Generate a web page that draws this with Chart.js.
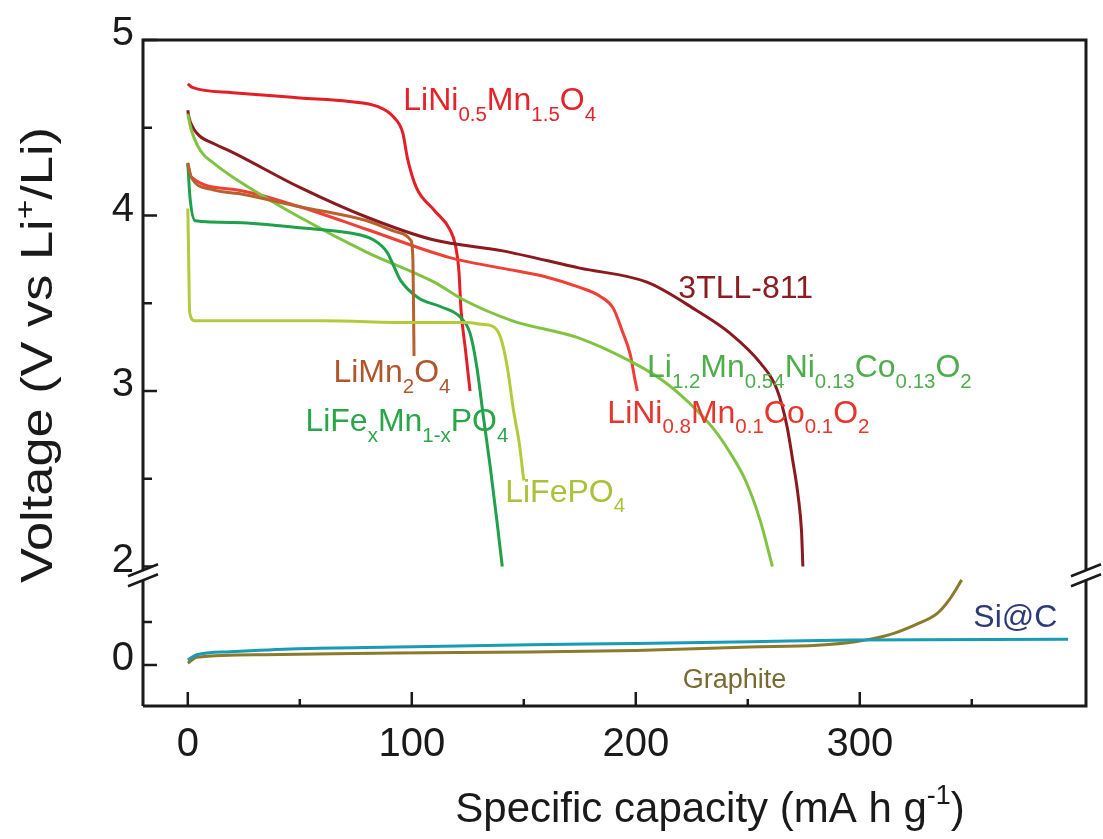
<!DOCTYPE html>
<html>
<head>
<meta charset="utf-8">
<script src="https://cdn.jsdelivr.net/npm/chart.js@4.4.0/dist/chart.umd.min.js"></script>
<style>
  html, body { margin: 0; background: #fff; }
</style>
</head>
<body>
<canvas id="chart" width="1103" height="839"></canvas>
<script>
/* Discharge curves of cathode / anode materials — broken voltage axis */

// ---- data (capacity in mA h g-1, voltage in V) ----
const lnmoCap = [0, 2, 20, 50, 72, 85, 92, 96, 98, 102, 110, 117, 119.5, 121, 122, 124, 126];
const lnmoV   = [4.75, 4.73, 4.70, 4.67, 4.65, 4.62, 4.56, 4.47, 4.33, 4.16, 4.03, 3.92, 3.83, 3.69, 3.46, 3.23, 3.0];

const tllCap = [0, 0.5, 4, 11.5, 20, 50, 80, 110, 140, 175, 205, 227, 242, 255.6, 263, 267.5, 270, 272.5, 274, 274.6];
const tllV   = [4.60, 4.56, 4.47, 4.41, 4.36, 4.16, 3.99, 3.86, 3.80, 3.70, 3.62, 3.46, 3.33, 3.16, 3.01, 2.80, 2.61, 2.40, 2.20, 2.0];

const nmcCap = [0, 1.5, 20, 50, 80, 117, 140, 160, 175, 184, 190, 194, 197.5, 199.7, 200.7];
const nmcV   = [4.29, 4.22, 4.15, 4.05, 3.92, 3.76, 3.70, 3.65, 3.59, 3.54, 3.47, 3.34, 3.21, 3.06, 3.0];

const lmoCap = [0, 1.5, 10, 25, 50, 80, 95, 99.5, 100.5, 100.8, 101];
const lmoV   = [4.30, 4.22, 4.15, 4.12, 4.05, 3.97, 3.90, 3.86, 3.75, 3.45, 3.2];

const lfmpCap = [0, 1, 3.3, 20, 50, 72.5, 83, 89, 92, 95, 103, 113, 121.7, 126, 129, 132, 135, 138, 140.4];
const lfmpV   = [4.30, 4.10, 3.97, 3.96, 3.93, 3.90, 3.86, 3.79, 3.71, 3.63, 3.53, 3.48, 3.42, 3.33, 3.14, 2.85, 2.57, 2.26, 2.0];

const lfpCap = [0, 0.4, 0.8, 3, 20, 60, 100, 125, 131, 136, 139.5, 142.6, 145.4, 148, 150];
const lfpV   = [4.04, 3.75, 3.45, 3.40, 3.40, 3.40, 3.39, 3.39, 3.38, 3.37, 3.31, 3.14, 2.89, 2.70, 2.49];

const lrCap = [0, 1.3, 5.6, 11.4, 20, 50, 80, 110, 123, 145, 175, 197.5, 212, 224, 235, 242, 249, 255.6, 261];
const lrV   = [4.58, 4.50, 4.37, 4.30, 4.22, 3.99, 3.79, 3.62, 3.52, 3.40, 3.30, 3.17, 3.06, 2.93, 2.78, 2.65, 2.49, 2.26, 2.0];

const graphiteCap = [0, 4, 34, 93, 153, 200, 251, 281, 298, 313, 325, 334.6, 340, 345.5];
const graphiteV   = [0.02, 0.09, 0.12, 0.14, 0.15, 0.17, 0.21, 0.23, 0.27, 0.35, 0.47, 0.60, 0.76, 0.99];

const sicCap = [0, 4, 19, 49, 93, 153, 200, 251, 296, 393];
const sicV   = [0.06, 0.12, 0.155, 0.19, 0.21, 0.235, 0.25, 0.27, 0.29, 0.30];

// ---- ticks ----
const xTicks = [0, 100, 200, 300];
const xMinor = [50, 150, 250, 350];
const yTicks = [0, 2, 3, 4, 5];
const yMinor = [0.5, 2.5, 3.5, 4.5];

// broken axis: 2..5 V keep their value, 0..1 V are squeezed below the break
const LOW_BASE = 1.4387;
const LOW_SCALE = 0.49;
const BREAK_D = 1.95;
const toD = v => (v >= 1.9 ? v : LOW_BASE + LOW_SCALE * v);

const FONT = '"Liberation Sans", Arial, Helvetica, sans-serif';

// text labels, anchored in data units (left edge, baseline)
const labels = [
  { parts: ['LiNi', '_0.5', 'Mn', '_1.5', 'O', '_4'], x: 96.2, v: 4.60, color: '#e4242a', size: 32 },
  { parts: ['3TLL-811'], x: 219, v: 3.53, color: '#8b1c20', size: 32 },
  { parts: ['Li', '_1.2', 'Mn', '_0.54', 'Ni', '_0.13', 'Co', '_0.13', 'O', '_2'], x: 205, v: 3.08, color: '#4fae4c', size: 32 },
  { parts: ['LiNi', '_0.8', 'Mn', '_0.1', 'Co', '_0.1', 'O', '_2'], x: 187.3, v: 2.82, color: '#e8342c', size: 32 },
  { parts: ['LiMn', '_2', 'O', '_4'], x: 65, v: 3.05, color: '#b0562c', size: 32 },
  { parts: ['LiFe', '_x', 'Mn', '_1-x', 'PO', '_4'], x: 52.5, v: 2.77, color: '#2aa64a', size: 32 },
  { parts: ['LiFePO', '_4'], x: 141.7, v: 2.37, color: '#a9c23a', size: 32 },
  { parts: ['Si@C'], x: 350.7, v: 0.44, color: '#2d3a78', size: 32 },
  { parts: ['Graphite'], x: 221, v: -0.27, color: '#7a6a32', size: 27 },
];

function series(cap, volt, color) {
  return {
    data: cap.map((c, i) => ({ x: c, y: toD(volt[i]) })),
    borderColor: color,
    borderWidth: 3,
    pointRadius: 0,
    fill: false,
    cubicInterpolationMode: 'monotone',
  };
}

function richText(ctx, parts, x, y, size, align) {
  const segs = parts.map(p => {
    const type = p[0] === '_' ? 'sub' : p[0] === '^' ? 'sup' : 'n';
    const s = type === 'n' ? p : p.slice(1);
    const fs = type === 'n' ? size : size * 0.64;
    ctx.font = fs + 'px ' + FONT;
    return { s, type, fs, w: ctx.measureText(s).width };
  });
  const total = segs.reduce((a, g) => a + g.w, 0);
  let cx = align === 'center' ? x - total / 2 : align === 'right' ? x - total : x;
  ctx.textAlign = 'left';
  ctx.textBaseline = 'alphabetic';
  for (const g of segs) {
    ctx.font = g.fs + 'px ' + FONT;
    const dy = g.type === 'sub' ? size * 0.33 : g.type === 'sup' ? -size * 0.42 : 0;
    ctx.fillText(g.s, cx, y + dy);
    cx += g.w;
  }
}

const framePlugin = {
  id: 'frame',
  afterDatasetsDraw(chart) {
    const { ctx, chartArea: a, scales: { x, y } } = chart;
    ctx.save();
    ctx.strokeStyle = '#1a1a1a';
    ctx.fillStyle = '#1a1a1a';
    ctx.lineWidth = 3;
    ctx.lineCap = 'butt';

    // frame
    ctx.beginPath();
    ctx.moveTo(a.left, a.bottom);
    ctx.lineTo(a.left, a.top);
    ctx.lineTo(a.right, a.top);
    ctx.lineTo(a.right, a.bottom);
    ctx.lineTo(a.left, a.bottom);
    ctx.stroke();

    // x ticks (inward)
    ctx.lineWidth = 2.5;
    ctx.beginPath();
    xTicks.forEach(t => { const px = x.getPixelForValue(t); ctx.moveTo(px, a.bottom); ctx.lineTo(px, a.bottom - 14); });
    xMinor.forEach(t => { const px = x.getPixelForValue(t); ctx.moveTo(px, a.bottom); ctx.lineTo(px, a.bottom - 7); });
    // y ticks (inward)
    yTicks.forEach(t => { const py = y.getPixelForValue(toD(t)); ctx.moveTo(a.left, py); ctx.lineTo(a.left + 14, py); });
    yMinor.forEach(t => { const py = y.getPixelForValue(toD(t)); ctx.moveTo(a.left, py); ctx.lineTo(a.left + 9, py); });
    ctx.stroke();

    // axis break marks on both sides
    const by = y.getPixelForValue(BREAK_D);
    [a.left, a.right].forEach(ax => {
      const half = 15, slope = 0.4, gap = 5;
      ctx.fillStyle = '#fff';
      ctx.beginPath();
      ctx.moveTo(ax - half, by - gap + half * slope);
      ctx.lineTo(ax + half, by - gap - half * slope);
      ctx.lineTo(ax + half, by + gap - half * slope);
      ctx.lineTo(ax - half, by + gap + half * slope);
      ctx.closePath();
      ctx.fill();
      ctx.lineWidth = 2.5;
      ctx.beginPath();
      ctx.moveTo(ax - half, by - gap + half * slope);
      ctx.lineTo(ax + half, by - gap - half * slope);
      ctx.moveTo(ax - half, by + gap + half * slope);
      ctx.lineTo(ax + half, by + gap - half * slope);
      ctx.stroke();
    });

    // tick labels
    ctx.fillStyle = '#1a1a1a';
    ctx.font = '40px ' + FONT;
    ctx.textAlign = 'center';
    ctx.textBaseline = 'alphabetic';
    xTicks.forEach(t => ctx.fillText(String(t), x.getPixelForValue(t), 756));
    ctx.textAlign = 'right';
    yTicks.forEach(t => ctx.fillText(String(t), 134, y.getPixelForValue(toD(t)) + 5));

    // axis titles
    ctx.fillStyle = '#1a1a1a';
    richText(ctx, ['Specific capacity (mA h g', '^-1', ')'], 710, 822, 42, 'center');
    ctx.save();
    ctx.translate(52, 355);
    ctx.rotate(-Math.PI / 2);
    ctx.scale(1.19, 1);
    richText(ctx, ['Voltage (V vs Li', '^+', '/Li)'], 0, 0, 44, 'center');
    ctx.restore();

    // curve labels
    labels.forEach(l => {
      ctx.fillStyle = l.color;
      richText(ctx, l.parts, x.getPixelForValue(l.x), y.getPixelForValue(toD(l.v)), l.size, 'left');
    });
    ctx.restore();
  },
};

new Chart(document.getElementById('chart'), {
  type: 'line',
  data: {
    datasets: [
      series(lfpCap, lfpV, '#b3cb3b'),
      series(lmoCap, lmoV, '#b8612e'),
      series(lfmpCap, lfmpV, '#1fa04a'),
      series(lrCap, lrV, '#80c343'),
      series(nmcCap, nmcV, '#ee4036'),
      series(tllCap, tllV, '#8b1a1f'),
      series(lnmoCap, lnmoV, '#e41e26'),
      series(sicCap, sicV, '#1a9bb5'),
      series(graphiteCap, graphiteV, '#8c7a2c'),
    ],
  },
  options: {
    responsive: false,
    animation: false,
    devicePixelRatio: 1,
    layout: { padding: { top: 40, right: 17, left: 0, bottom: 0 } },
    plugins: { legend: { display: false }, tooltip: { enabled: false } },
    scales: {
      x: {
        type: 'linear', min: -20, max: 401,
        grid: { display: false }, border: { display: false }, ticks: { display: false },
        afterFit: s => { s.height = 133; },
      },
      y: {
        type: 'linear', min: 5 - 666 / 175.5, max: 5,
        grid: { display: false }, border: { display: false }, ticks: { display: false },
        afterFit: s => { s.width = 143; },
      },
    },
  },
  plugins: [framePlugin],
});
</script>
</body>
</html>
